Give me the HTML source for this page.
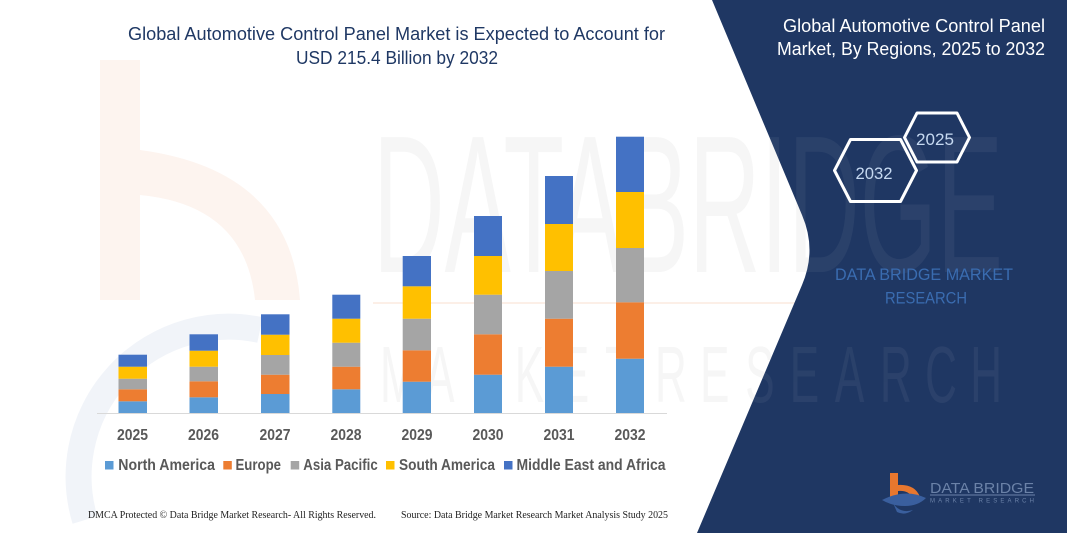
<!DOCTYPE html>
<html>
<head>
<meta charset="utf-8">
<style>
  html,body{margin:0;padding:0;background:#fff;}
  body{width:1067px;height:533px;overflow:hidden;}
  svg{display:block;}
</style>
</head>
<body>
<svg width="1067" height="533" viewBox="0 0 1067 533" xmlns="http://www.w3.org/2000/svg">
  <defs>
    <clipPath id="panel">
      <path d="M712,0 L1067,0 L1067,533 L697,533 L802,285 Q817,250 802,215 Z"/>
    </clipPath>
  </defs>
  <rect x="0" y="0" width="1067" height="533" fill="#ffffff"/>

  <!-- faint watermark on white -->
  <g>
    <path d="M100,60 L140,60 L140,300 L100,300 Z" fill="#fdf4ef"/>
    <path d="M140,150 Q290,170 300,300 L255,300 Q245,205 140,195 Z" fill="#fdf4ef"/>
    <path d="M85,520 A150,150 0 0 1 260,330" fill="none" stroke="#f1f4f9" stroke-width="26"/>
    <text x="373" y="272" font-family="Liberation Sans, sans-serif" font-size="196" fill="#f6f6f6" textLength="630" lengthAdjust="spacingAndGlyphs">DATABRIDGE</text>
    <rect x="373" y="302" width="440" height="2" fill="#fcefe7"/>
    <g transform="scale(0.55,1)">
      <text y="402" font-family="Liberation Sans, sans-serif" font-size="80" fill="#f6f6f6" x="691 773 855 936 1018 1100 1191 1273 1355 1436 1518 1600 1682 1764">MARKETRESEARCH</text>
    </g>
  </g>

  <!-- navy panel -->
  <path d="M712,0 L1067,0 L1067,533 L697,533 L802,285 Q817,250 802,215 Z" fill="#1f3763"/>
  <g clip-path="url(#panel)" opacity="0.05">
    <text x="373" y="272" font-family="Liberation Sans, sans-serif" font-size="196" fill="#ffffff" textLength="630" lengthAdjust="spacingAndGlyphs">DATABRIDGE</text>
    <g transform="scale(0.55,1)">
      <text y="402" font-family="Liberation Sans, sans-serif" font-size="80" fill="#ffffff" x="691 773 855 936 1018 1100 1191 1273 1355 1436 1518 1600 1682 1764">MARKETRESEARCH</text>
    </g>
  </g>

  <!-- left title -->
  <text x="128" y="40" font-family="Liberation Sans, sans-serif" font-size="18" fill="#1f3864" textLength="537" lengthAdjust="spacingAndGlyphs">Global Automotive Control Panel Market is Expected to Account for</text>
  <text x="296" y="64" font-family="Liberation Sans, sans-serif" font-size="18" fill="#1f3864" textLength="202" lengthAdjust="spacingAndGlyphs">USD 215.4 Billion by 2032</text>

  <!-- right title -->
  <text x="783" y="32" font-family="Liberation Sans, sans-serif" font-size="18.5" fill="#ffffff" textLength="262" lengthAdjust="spacingAndGlyphs">Global Automotive Control Panel</text>
  <text x="777" y="55" font-family="Liberation Sans, sans-serif" font-size="18.5" fill="#ffffff" textLength="268" lengthAdjust="spacingAndGlyphs">Market, By Regions, 2025 to 2032</text>

  <!-- hexagons -->
  <polygon points="904.5,137.5 917,113 957,113 969.5,137.5 957,162 917,162" fill="none" stroke="#ffffff" stroke-width="3" stroke-linejoin="round"/>
  <polygon points="834.5,170.5 850.5,139.5 900.5,139.5 916.5,170.5 900.5,201.5 850.5,201.5" fill="none" stroke="#ffffff" stroke-width="3" stroke-linejoin="round"/>
  <text x="916" y="145" font-family="Liberation Sans, sans-serif" font-size="17" fill="#c6d9f1" textLength="38" lengthAdjust="spacingAndGlyphs">2025</text>
  <text x="855.5" y="179" font-family="Liberation Sans, sans-serif" font-size="17" fill="#c6d9f1" textLength="37" lengthAdjust="spacingAndGlyphs">2032</text>

  <!-- DBMR text -->
  <text x="835" y="280" font-family="Liberation Sans, sans-serif" font-size="17" fill="#3a6cb0" textLength="178" lengthAdjust="spacingAndGlyphs">DATA BRIDGE MARKET</text>
  <text x="885" y="303.5" font-family="Liberation Sans, sans-serif" font-size="17" fill="#3a6cb0" textLength="82" lengthAdjust="spacingAndGlyphs">RESEARCH</text>

  <!-- logo -->
  <g>
    <path d="M890,473 L898,473 L898,485 Q915,484 920,497 L912,497 Q908,490 898,491 L898,500 L890,500 Z" fill="#e8772e"/>
    <path d="M882,500 Q905,488 926,498 Q918,506 905,506 Q892,506 882,500 Z" fill="#3a5f9e"/>
    <path d="M893,503 Q900,514 913,510 Q905,516 897,512 Z" fill="#3a5f9e"/>
    <text x="930" y="493" font-family="Liberation Sans, sans-serif" font-size="15" fill="#6b82a8" textLength="104" lengthAdjust="spacingAndGlyphs">DATA BRIDGE</text>
    <rect x="930" y="494.5" width="105" height="1" fill="#6b82a8"/>
    <text x="930" y="502.5" font-family="Liberation Sans, sans-serif" font-size="6" fill="#6b82a8" textLength="104" lengthAdjust="spacing">MARKET RESEARCH</text>
  </g>

  <!-- axis -->
  <rect x="97" y="413" width="570" height="1" fill="#d9d9d9"/>

  <!-- bars: NA, EU, AP, SA, MEA -->
  <g>
    <rect x="118.5" y="401.3" width="28.5" height="11.7" fill="#5b9bd5"/>
    <rect x="118.5" y="389.3" width="28.5" height="12" fill="#ed7d31"/>
    <rect x="118.5" y="378.7" width="28.5" height="10.6" fill="#a5a5a5"/>
    <rect x="118.5" y="366.7" width="28.5" height="12" fill="#ffc000"/>
    <rect x="118.5" y="354.7" width="28.5" height="12" fill="#4472c4"/>

    <rect x="189.5" y="397.3" width="28.5" height="15.7" fill="#5b9bd5"/>
    <rect x="189.5" y="381.3" width="28.5" height="16" fill="#ed7d31"/>
    <rect x="189.5" y="366.7" width="28.5" height="14.6" fill="#a5a5a5"/>
    <rect x="189.5" y="350.7" width="28.5" height="16" fill="#ffc000"/>
    <rect x="189.5" y="334.3" width="28.5" height="16.4" fill="#4472c4"/>

    <rect x="261" y="394" width="28.5" height="19" fill="#5b9bd5"/>
    <rect x="261" y="374.7" width="28.5" height="19.3" fill="#ed7d31"/>
    <rect x="261" y="355" width="28.5" height="19.7" fill="#a5a5a5"/>
    <rect x="261" y="334.7" width="28.5" height="20.3" fill="#ffc000"/>
    <rect x="261" y="314.3" width="28.5" height="20.4" fill="#4472c4"/>

    <rect x="332.3" y="389.3" width="28" height="23.7" fill="#5b9bd5"/>
    <rect x="332.3" y="366.7" width="28" height="22.6" fill="#ed7d31"/>
    <rect x="332.3" y="342.7" width="28" height="24" fill="#a5a5a5"/>
    <rect x="332.3" y="318.7" width="28" height="24" fill="#ffc000"/>
    <rect x="332.3" y="294.7" width="28" height="24" fill="#4472c4"/>

    <rect x="402.7" y="381.7" width="28.3" height="31.3" fill="#5b9bd5"/>
    <rect x="402.7" y="350.3" width="28.3" height="31.4" fill="#ed7d31"/>
    <rect x="402.7" y="318.7" width="28.3" height="31.6" fill="#a5a5a5"/>
    <rect x="402.7" y="286.3" width="28.3" height="32.4" fill="#ffc000"/>
    <rect x="402.7" y="256" width="28.3" height="30.3" fill="#4472c4"/>

    <rect x="474" y="374.7" width="28" height="38.3" fill="#5b9bd5"/>
    <rect x="474" y="334.3" width="28" height="40.4" fill="#ed7d31"/>
    <rect x="474" y="294.7" width="28" height="39.6" fill="#a5a5a5"/>
    <rect x="474" y="256" width="28" height="38.7" fill="#ffc000"/>
    <rect x="474" y="216" width="28" height="40" fill="#4472c4"/>

    <rect x="545" y="366.7" width="28" height="46.3" fill="#5b9bd5"/>
    <rect x="545" y="318.7" width="28" height="48" fill="#ed7d31"/>
    <rect x="545" y="271" width="28" height="47.7" fill="#a5a5a5"/>
    <rect x="545" y="224" width="28" height="47" fill="#ffc000"/>
    <rect x="545" y="176" width="28" height="48" fill="#4472c4"/>

    <rect x="616" y="358.7" width="28" height="54.3" fill="#5b9bd5"/>
    <rect x="616" y="302.3" width="28" height="56.4" fill="#ed7d31"/>
    <rect x="616" y="248" width="28" height="54.3" fill="#a5a5a5"/>
    <rect x="616" y="192" width="28" height="56" fill="#ffc000"/>
    <rect x="616" y="136.7" width="28" height="55.3" fill="#4472c4"/>
  </g>

  <!-- year labels -->
  <g font-family="Liberation Sans, sans-serif" font-size="15.5" font-weight="bold" fill="#595959">
    <text x="117" y="440" textLength="31" lengthAdjust="spacingAndGlyphs">2025</text>
    <text x="188" y="440" textLength="31" lengthAdjust="spacingAndGlyphs">2026</text>
    <text x="259.5" y="440" textLength="31" lengthAdjust="spacingAndGlyphs">2027</text>
    <text x="330.5" y="440" textLength="31" lengthAdjust="spacingAndGlyphs">2028</text>
    <text x="401.5" y="440" textLength="31" lengthAdjust="spacingAndGlyphs">2029</text>
    <text x="472.5" y="440" textLength="31" lengthAdjust="spacingAndGlyphs">2030</text>
    <text x="543.5" y="440" textLength="31" lengthAdjust="spacingAndGlyphs">2031</text>
    <text x="614.5" y="440" textLength="31" lengthAdjust="spacingAndGlyphs">2032</text>
  </g>

  <!-- legend -->
  <g font-family="Liberation Sans, sans-serif" font-size="15.5" font-weight="bold" fill="#595959">
    <rect x="105" y="461" width="8.5" height="8.5" fill="#5b9bd5"/>
    <text x="118.3" y="470" textLength="96.7" lengthAdjust="spacingAndGlyphs">North America</text>
    <rect x="223.3" y="461" width="8.5" height="8.5" fill="#ed7d31"/>
    <text x="235.5" y="470" textLength="45.5" lengthAdjust="spacingAndGlyphs">Europe</text>
    <rect x="290.7" y="461" width="8.5" height="8.5" fill="#a5a5a5"/>
    <text x="303.3" y="470" textLength="74.4" lengthAdjust="spacingAndGlyphs">Asia Pacific</text>
    <rect x="386" y="461" width="8.5" height="8.5" fill="#ffc000"/>
    <text x="399" y="470" textLength="96" lengthAdjust="spacingAndGlyphs">South America</text>
    <rect x="504" y="461" width="8.5" height="8.5" fill="#4472c4"/>
    <text x="516.5" y="470" textLength="149" lengthAdjust="spacingAndGlyphs">Middle East and Africa</text>
  </g>

  <!-- footer -->
  <g font-family="Liberation Serif, serif" font-size="10.5" fill="#222222">
    <text x="88" y="518" textLength="288" lengthAdjust="spacingAndGlyphs">DMCA Protected © Data Bridge Market Research- All Rights Reserved.</text>
    <text x="401" y="518" textLength="267" lengthAdjust="spacingAndGlyphs">Source: Data Bridge Market Research Market Analysis Study 2025</text>
  </g>
</svg>
</body>
</html>
